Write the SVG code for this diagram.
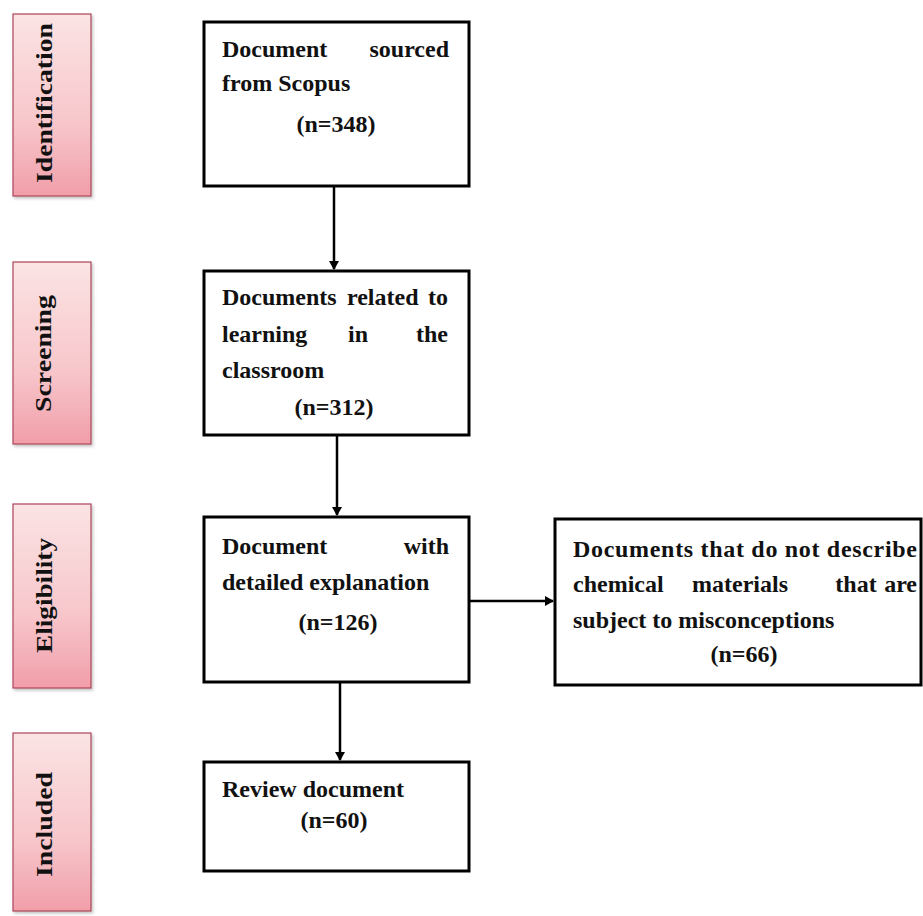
<svg xmlns="http://www.w3.org/2000/svg" width="923" height="916" viewBox="0 0 923 916">
<style>
.box{fill:#fff;stroke:#000;stroke-width:3}
.t{font-family:"Liberation Serif","Times New Roman",serif;font-weight:bold;font-size:24px;fill:#111}
.side{fill:url(#pink);stroke:#b0455a;stroke-width:1.2;filter:url(#sh)}
.lbl{font-family:"Liberation Serif","Times New Roman",serif;font-weight:bold;font-size:24px;fill:#111}
.conn{stroke:#000;stroke-width:2.5;fill:none}
</style>
<defs>
<linearGradient id="pink" x1="0" y1="0" x2="0" y2="1">
<stop offset="0" stop-color="#fbe4e4"/>
<stop offset="0.6" stop-color="#f7c6cb"/>
<stop offset="1" stop-color="#f19ea9"/>
</linearGradient>
<filter id="sh" x="-20%" y="-10%" width="140%" height="120%">
<feDropShadow dx="1.5" dy="2" stdDeviation="1.5" flood-color="#888" flood-opacity="0.5"/>
</filter>
<marker id="ah" markerWidth="10" markerHeight="10" refX="8" refY="5" orient="auto" markerUnits="userSpaceOnUse">
<path d="M0,0 L9,5 L0,10 Z" fill="#000"/>
</marker>
</defs>
<rect width="923" height="916" fill="#fff"/>

<g id="stage-identification">
<rect class="side" x="13" y="14" width="78" height="182"/>
<text class="lbl" transform="translate(52,183) rotate(-90)" textLength="160" lengthAdjust="spacingAndGlyphs">Identification</text>
</g>
<g id="stage-screening">
<rect class="side" x="13" y="262" width="78" height="182"/>
<text class="lbl" transform="translate(51,412) rotate(-90)" textLength="117" lengthAdjust="spacingAndGlyphs">Screening</text>
</g>
<g id="stage-eligibility">
<rect class="side" x="13" y="504" width="78" height="184"/>
<text class="lbl" transform="translate(52,653) rotate(-90)" textLength="115" lengthAdjust="spacingAndGlyphs">Eligibility</text>
</g>
<g id="stage-included">
<rect class="side" x="13" y="733" width="78" height="178"/>
<text class="lbl" transform="translate(52,877) rotate(-90)" textLength="105" lengthAdjust="spacingAndGlyphs">Included</text>
</g>

<g id="connectors">
<line class="conn" x1="334" y1="186" x2="334" y2="269" marker-end="url(#ah)"/>
<line class="conn" x1="337" y1="435" x2="337" y2="515" marker-end="url(#ah)"/>
<line class="conn" x1="340" y1="682" x2="340" y2="760" marker-end="url(#ah)"/>
<line class="conn" x1="469" y1="601" x2="553" y2="601" marker-end="url(#ah)"/>
</g>

<g id="node-scopus">
<rect class="box" x="204" y="22" width="265" height="164"/>
<text class="t" x="222" y="57">Document</text>
<text class="t" x="449" y="57" text-anchor="end">sourced</text>
<text class="t" x="222" y="91">from Scopus</text>
<text class="t" x="336" y="132" text-anchor="middle">(n=348)</text>
</g>

<g id="node-screening">
<rect class="box" x="204" y="271" width="265" height="164"/>
<text class="t" x="222" y="305">Documents</text>
<text class="t" x="347" y="305">related</text>
<text class="t" x="448" y="305" text-anchor="end">to</text>
<text class="t" x="222" y="342">learning</text>
<text class="t" x="358" y="342" text-anchor="middle">in</text>
<text class="t" x="448" y="342" text-anchor="end">the</text>
<text class="t" x="222" y="378">classroom</text>
<text class="t" x="334" y="415" text-anchor="middle">(n=312)</text>
</g>

<g id="node-eligibility">
<rect class="box" x="204" y="517" width="265" height="165"/>
<text class="t" x="222" y="554">Document</text>
<text class="t" x="449" y="554" text-anchor="end">with</text>
<text class="t" x="222" y="590">detailed explanation</text>
<text class="t" x="338" y="630" text-anchor="middle">(n=126)</text>
</g>

<g id="node-excluded">
<rect class="box" x="555" y="519" width="366" height="166"/>
<text class="t" x="573" y="557" textLength="344" lengthAdjust="spacing">Documents that do not describe</text>
<text class="t" x="573" y="592">chemical</text>
<text class="t" x="740" y="592" text-anchor="middle">materials</text>
<text class="t" x="856" y="592" text-anchor="middle">that</text>
<text class="t" x="917" y="592" text-anchor="end">are</text>
<text class="t" x="573" y="628">subject to misconceptions</text>
<text class="t" x="744" y="662" text-anchor="middle">(n=66)</text>
</g>

<g id="node-included">
<rect class="box" x="204" y="762" width="265" height="109"/>
<text class="t" x="222" y="797">Review document</text>
<text class="t" x="334" y="828" text-anchor="middle">(n=60)</text>
</g>
</svg>
